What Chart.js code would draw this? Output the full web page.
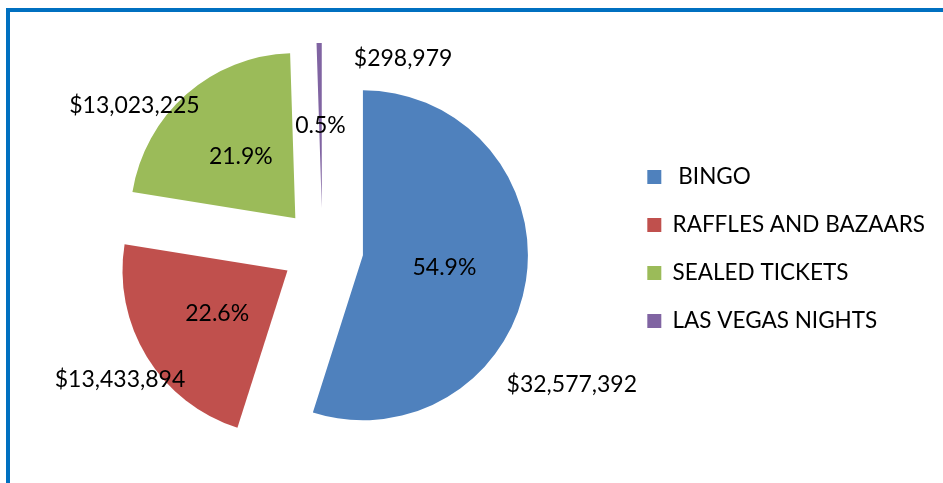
<!DOCTYPE html>
<html>
<head>
<meta charset="utf-8">
<script src="https://cdn.jsdelivr.net/npm/chart.js"></script>
<style>
  html, body { margin: 0; padding: 0; background: #fff; overflow: hidden; }
  .frame { position: absolute; left: 6px; top: 8px; width: 960px; height: 520px; border: 4px solid #0070C0; }
  #chart { position: absolute; left: 0; top: 0; }
</style>
</head>
<body>
<div class="frame"></div>
<canvas id="chart" width="943" height="483"></canvas>
<script>
'use strict';

var categories = [' BINGO', 'RAFFLES AND BAZAARS', 'SEALED TICKETS', 'LAS VEGAS NIGHTS'];
var amounts = [32577392, 13433894, 13023225, 298979];
var colors = ['#4F81BD', '#C0504D', '#9BBB59', '#8064A2'];

// where the value labels sit, like Excel's "best fit": turn (deg) and distance (x radius)
var valueTurn = [23, -1.4, -13.7, 29.5];
var valueDist = [1.49, 1.21, 1.19, 1.03];

var EXPLODE = 41;
var FONT = '23px Lato';

Chart.defaults.font.family = 'Lato';
Chart.defaults.font.size = 23;
Chart.defaults.color = '#000';

var total = amounts.reduce(function (a, b) { return a + b; }, 0);

// draw every slice pulled out from the centre
var explodePlugin = {
    id: 'explode',
    beforeDatasetDraw: function (chart, args) {
        var ctx = chart.ctx;
        args.meta.data.forEach(function (arc) {
            var mid = (arc.startAngle + arc.endAngle) / 2;
            ctx.save();
            ctx.translate(Math.cos(mid) * EXPLODE, Math.sin(mid) * EXPLODE);
            arc.draw(ctx);
            ctx.restore();
        });
        return false;
    }
};

var labelPlugin = {
    id: 'sliceLabels',
    afterDatasetsDraw: function (chart) {
        var ctx = chart.ctx;
        var meta = chart.getDatasetMeta(0);
        ctx.save();
        ctx.font = FONT;
        ctx.fillStyle = '#000';
        ctx.textAlign = 'center';
        ctx.textBaseline = 'middle';
        meta.data.forEach(function (arc, i) {
            var mid = (arc.startAngle + arc.endAngle) / 2;
            var cx = arc.x + Math.cos(mid) * EXPLODE;
            var cy = arc.y + Math.sin(mid) * EXPLODE;
            var r = arc.outerRadius;
            var pct = (amounts[i] / total * 100).toFixed(1) + '%';
            ctx.fillText(pct, cx + Math.cos(mid) * r * 0.5, cy + Math.sin(mid) * r * 0.5);
            var a = mid + valueTurn[i] * Math.PI / 180;
            var val = '$' + amounts[i].toLocaleString('en-US');
            ctx.fillText(val, cx + Math.cos(a) * r * valueDist[i], cy + Math.sin(a) * r * valueDist[i]);
        });
        ctx.restore();
    }
};

new Chart(document.getElementById('chart'), {
    type: 'pie',
    data: {
        labels: categories,
        datasets: [{
            data: amounts,
            backgroundColor: colors,
            borderWidth: 0
        }]
    },
    options: {
        responsive: false,
        animation: false,
        radius: 165,
        layout: {
            padding: { left: 23, right: 8, top: 15, bottom: 0 }
        },
        plugins: {
            tooltip: { enabled: false },
            legend: {
                position: 'right',
                align: 'center',
                labels: {
                    boxWidth: 14,
                    boxHeight: 14,
                    padding: 25.5,
                    color: '#000',
                    font: { size: 22.5 }
                }
            }
        }
    },
    plugins: [explodePlugin, labelPlugin]
});
</script>
</body>
</html>
